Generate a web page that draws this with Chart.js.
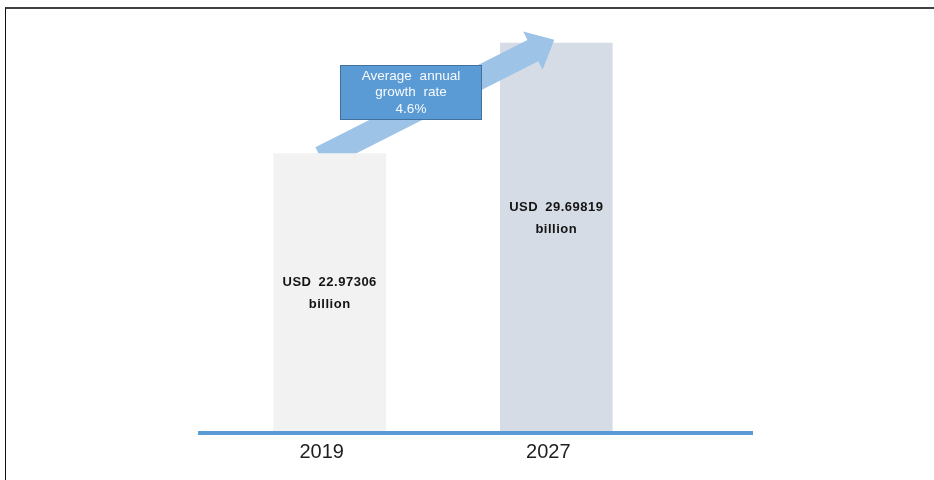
<!DOCTYPE html>
<html>
<head>
<meta charset="utf-8">
<title>Market size 2019 vs 2027</title>
<script src="https://cdn.jsdelivr.net/npm/chart.js@4.4.1/dist/chart.umd.min.js"></script>
<style>
  html, body { margin: 0; padding: 0; background: #ffffff; }
  #wrap { position: relative; width: 934px; height: 480px; overflow: hidden; }
  #frame {
    position: absolute; left: 5px; top: 7px; right: -2px; bottom: -2px;
    border-top: 2px solid #404040; border-left: 1px solid #111111;
    pointer-events: none;
  }
  canvas { display: block; }
</style>
</head>
<body>
<div id="wrap">
  <canvas id="chart" width="934" height="480"></canvas>
  <div id="frame"></div>
</div>
<script>
// Market size by year, in USD billion
const years = ['2019', '2027'];
const marketSize = [22.97306, 29.69819];
const growthRate = 4.6;
const unitPrefix = 'USD';
const unitSuffix = 'billion';
const growthLines = ['Average annual', 'growth rate', growthRate + '%'];

// Styling
const barColors = ['#f2f2f2', '#d6dce5'];
const labelPos = [0.5, 0.55];          // value label centre as share of bar height
const axisMin = 6;
const axisMax = 31;

// Draws the baseline, growth arrow, rate box and value labels
const decorPlugin = {
  id: 'marketDecor',
  afterDatasetsDraw(chart) {
    const ctx = chart.ctx;
    const xs = chart.scales.x;
    const ys = chart.scales.y;
    const bars = chart.getDatasetMeta(0).data;
    const b0 = bars[0], b1 = bars[1];
    const catW = (xs.right - xs.left) / years.length;
    const yb = ys.getPixelForValue(axisMin);

    // growth arrow, rising out of the first bar towards the second
    const tail = { x: b0.x, y: b0.y };
    const tip = { x: b1.x - 2, y: b1.y - 3 };
    let dx = tip.x - tail.x, dy = tip.y - tail.y;
    const len = Math.hypot(dx, dy);
    dx /= len; dy /= len;
    const px = -dy, py = dx;              // perpendicular
    const shaftHalf = 12, headHalf = 21.5, headLen = 24, back = 10;
    const sx = tail.x - dx * back, sy = tail.y - dy * back;
    const hx = tip.x - dx * headLen, hy = tip.y - dy * headLen;
    ctx.save();
    ctx.beginPath();
    ctx.rect(0, 0, chart.width, b0.y);
    ctx.clip();
    ctx.beginPath();
    ctx.moveTo(sx + px * shaftHalf, sy + py * shaftHalf);
    ctx.lineTo(hx + px * shaftHalf, hy + py * shaftHalf);
    ctx.lineTo(hx + px * headHalf, hy + py * headHalf);
    ctx.lineTo(tip.x, tip.y);
    ctx.lineTo(hx - px * headHalf, hy - py * headHalf);
    ctx.lineTo(hx - px * shaftHalf, hy - py * shaftHalf);
    ctx.lineTo(sx - px * shaftHalf, sy - py * shaftHalf);
    ctx.closePath();
    ctx.fillStyle = '#9dc3e6';
    ctx.fill();
    ctx.restore();

    // growth rate box
    const mx = (sx + tip.x) / 2 - 27;
    const my = (sy + tip.y) / 2 - 6.5;
    const bw = 141, bh = 54;
    const bx = Math.round(mx - bw / 2) + 0.5, by = Math.round(my - bh / 2) + 0.5;
    ctx.save();
    ctx.fillStyle = '#5b9bd5';
    ctx.strokeStyle = '#41719c';
    ctx.lineWidth = 1;
    ctx.fillRect(bx, by, bw, bh);
    ctx.strokeRect(bx, by, bw, bh);
    ctx.fillStyle = '#f7f9fc';
    ctx.font = '13.5px "Liberation Sans", Arial, sans-serif';
    ctx.textAlign = 'center';
    ctx.textBaseline = 'middle';
    try { ctx.wordSpacing = '4px'; } catch (e) {}
    growthLines.forEach((t, i) => {
      ctx.fillText(t, bx + bw / 2, by + bh / 2 + (i - 1) * 16.5);
    });
    ctx.restore();

    // value labels inside the bars
    ctx.save();
    ctx.fillStyle = '#141414';
    ctx.font = 'bold 13px "Liberation Sans", Arial, sans-serif';
    ctx.textAlign = 'center';
    ctx.textBaseline = 'middle';
    try { ctx.letterSpacing = '0.5px'; ctx.wordSpacing = '3px'; } catch (e) {}
    bars.forEach((b, i) => {
      const yc = yb - (yb - b.y) * labelPos[i];
      ctx.fillText(unitPrefix + ' ' + marketSize[i].toFixed(5), b.x, yc - 11);
      ctx.fillText(unitSuffix, b.x, yc + 11);
    });
    ctx.restore();

    // baseline
    ctx.save();
    ctx.fillStyle = '#5b9bd5';
    const x0 = xs.left - catW * 0.081;
    const x1 = xs.right + catW * 0.368;
    ctx.fillRect(x0, yb - 1.5, x1 - x0, 4);
    ctx.restore();
  }
};

new Chart(document.getElementById('chart'), {
  type: 'bar',
  data: {
    labels: years,
    datasets: [{
      data: marketSize,
      backgroundColor: barColors,
      borderWidth: 0,
      categoryPercentage: 1,
      barPercentage: 0.497
    }]
  },
  options: {
    responsive: false,
    animation: false,
    events: [],
    layout: { padding: { left: 216.4, right: 264.4, top: 21.35, bottom: 0 } },
    plugins: { legend: { display: false }, tooltip: { enabled: false }, title: { display: false } },
    scales: {
      x: {
        type: 'category',
        offset: true,
        grid: { display: false, drawTicks: false },
        border: { display: false },
        ticks: {
          color: '#1e1e1e',
          font: { family: '"Liberation Sans", Arial, sans-serif', size: 20 },
          padding: 8,
          labelOffset: -8,
          maxRotation: 0
        },
        afterFit(scale) { scale.height = 47.5; }
      },
      y: {
        display: false,
        min: axisMin,
        max: axisMax
      }
    }
  },
  plugins: [decorPlugin]
});
</script>
</body>
</html>
